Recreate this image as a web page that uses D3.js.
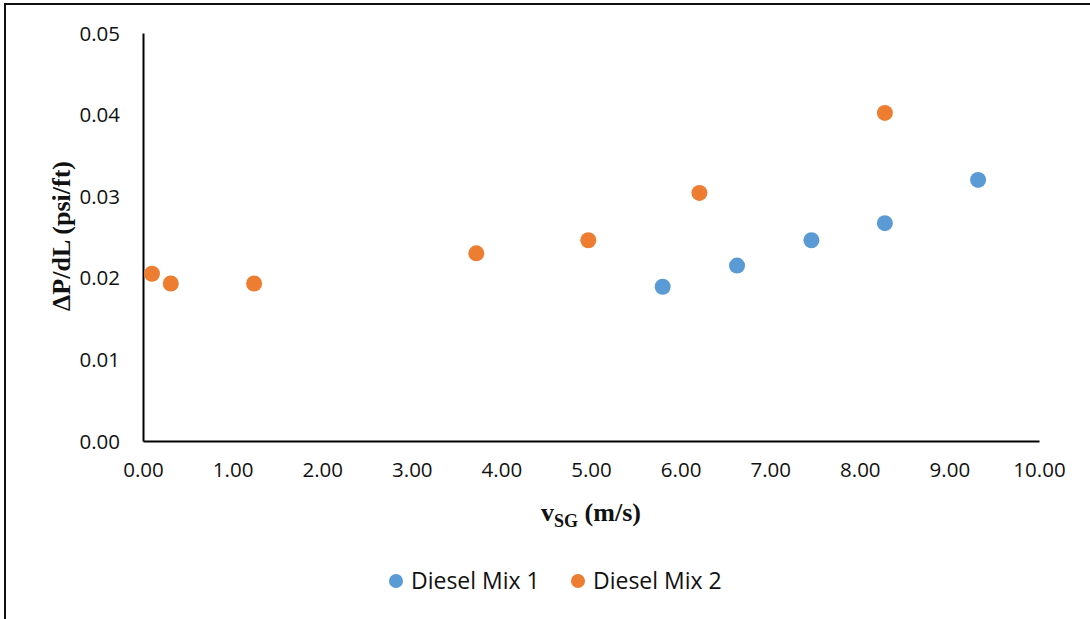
<!DOCTYPE html>
<html>
<head>
<meta charset="utf-8">
<script src="https://cdn.jsdelivr.net/npm/d3@7"></script>
<style>
  body { margin: 0; background: #fff; }
  svg { display: block; }
</style>
</head>
<body>
<div id="chart"></div>
<script>
// data
var mix1X = [5.80, 6.63, 7.46, 8.28, 9.32];
var mix1Y = [0.0189, 0.0215, 0.0246, 0.0267, 0.0320];
var mix2X = [0.10, 0.31, 1.24, 3.72, 4.97, 6.21, 8.28];
var mix2Y = [0.0205, 0.0193, 0.0193, 0.0230, 0.0246, 0.0304, 0.0402];
var seriesNames = ["Diesel Mix 1", "Diesel Mix 2"];
var seriesColors = ["#5B9BD5", "#ED7D31"];
var xTicks = [0, 1, 2, 3, 4, 5, 6, 7, 8, 9, 10];
var yTicks = [0, 0.01, 0.02, 0.03, 0.04, 0.05];

var svgWidth = 1090, svgHeight = 619;
var margin = { top: 33, left: 143, right: 51, bottom: 178 };
var chartWidth = svgWidth - margin.left - margin.right;
var chartHeight = svgHeight - margin.top - margin.bottom;

var svg = d3.select("#chart").append("svg")
  .attr("width", svgWidth)
  .attr("height", svgHeight);

// frame (only top and left edges are visible)
svg.append("rect")
  .attr("x", 5).attr("y", 4)
  .attr("width", 1200).attr("height", 800)
  .attr("fill", "none").attr("stroke", "#111").attr("stroke-width", 2);

var g = svg.append("g")
  .attr("transform", `translate(${margin.left}, ${margin.top})`);

var x = d3.scaleLinear().domain([0, 10]).range([0, chartWidth]);
var y = d3.scaleLinear().domain([0, 0.05]).range([chartHeight, 0]);

var xAxis = d3.axisBottom(x).tickValues(xTicks).tickSize(0).tickPadding(21)
  .tickFormat(d3.format(".2f"));
var yAxis = d3.axisLeft(y).tickValues(yTicks).tickSize(0).tickPadding(23)
  .tickFormat(d3.format(".2f"));

var gx = g.append("g").attr("transform", `translate(0, ${chartHeight})`).call(xAxis);
var gy = g.append("g").call(yAxis);

[gx, gy].forEach(function(a) {
  a.select(".domain").attr("stroke", "#000").attr("stroke-width", 2);
  a.selectAll("text")
    .attr("font-family", "'Open Sans', sans-serif")
    .attr("font-size", "20.5px")
    .attr("fill", "#111");
});
gy.selectAll("text").attr("dy", "0.35em");

// points
var mix1 = mix1X.map(function(v, i) { return { x: v, y: mix1Y[i] }; });
var mix2 = mix2X.map(function(v, i) { return { x: v, y: mix2Y[i] }; });

[mix1, mix2].forEach(function(data, s) {
  g.selectAll(null)
    .data(data)
    .enter()
    .append("circle")
    .attr("cx", d => x(d.x))
    .attr("cy", d => y(d.y))
    .attr("r", 8)
    .attr("fill", seriesColors[s]);
});

// axis titles
var xt = svg.append("text")
  .attr("x", 591).attr("y", 521)
  .attr("text-anchor", "middle")
  .attr("font-family", "'Liberation Serif', 'Times New Roman', serif")
  .attr("font-weight", "bold")
  .attr("font-size", "26px")
  .attr("fill", "#111");
xt.append("tspan").text("v");
xt.append("tspan").attr("font-size", "18px").attr("dy", 6).text("SG");
xt.append("tspan").attr("dy", -6).text(" (m/s)");

svg.append("text")
  .attr("transform", "translate(70, 236) rotate(-90)")
  .attr("text-anchor", "middle")
  .attr("font-family", "'Liberation Serif', 'Times New Roman', serif")
  .attr("font-weight", "bold")
  .attr("font-size", "26px")
  .attr("fill", "#111")
  .text("\u0394P/dL (psi/ft)");

// legend
var legendX = [396, 578];
seriesNames.forEach(function(name, i) {
  svg.append("circle")
    .attr("cx", legendX[i]).attr("cy", 581).attr("r", 7)
    .attr("fill", seriesColors[i]);
  svg.append("text")
    .attr("x", legendX[i] + 15).attr("y", 581)
    .attr("dy", "0.35em")
    .attr("font-family", "'Open Sans', sans-serif")
    .attr("font-size", "23px")
    .attr("fill", "#111")
    .text(name);
});
</script>
</body>
</html>
